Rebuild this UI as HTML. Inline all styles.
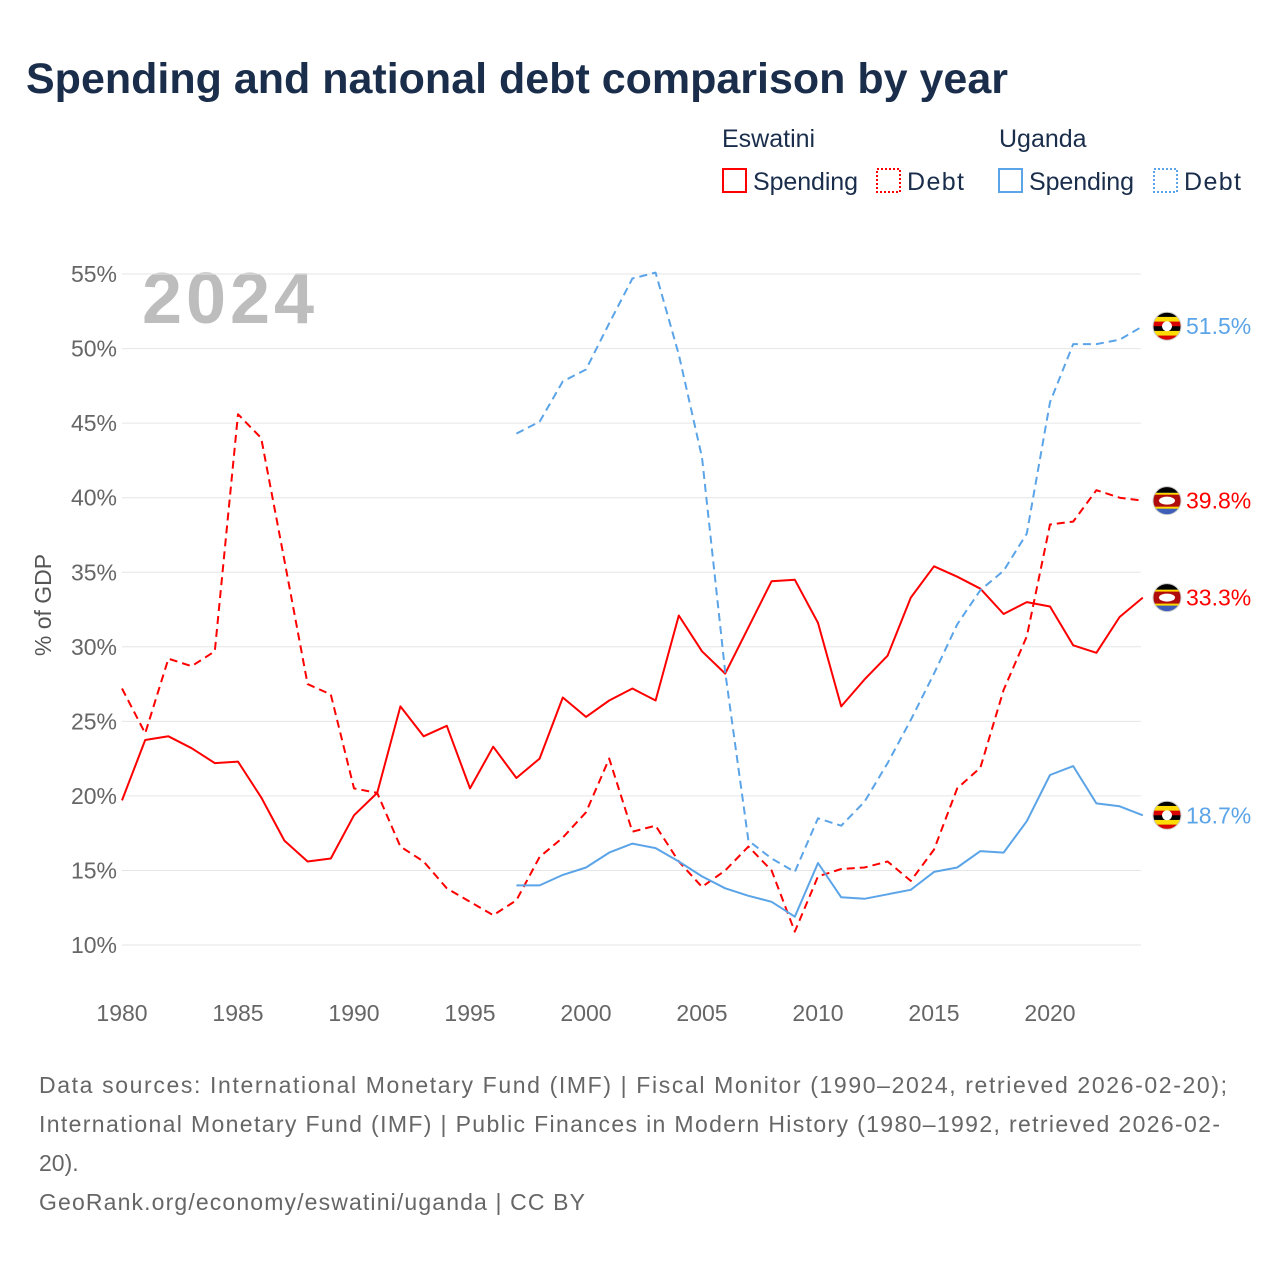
<!DOCTYPE html>
<html><head><meta charset="utf-8"><style>
body{margin:0;background:#fff;font-family:"Liberation Sans",sans-serif;}
#wrap{position:relative;width:1280px;height:1280px;overflow:hidden;}
</style></head><body>
<div id="wrap">
<svg id="chart" width="1280" height="1280" font-family="Liberation Sans, sans-serif">
<text x="26" y="93" font-size="43" font-weight="bold" fill="#1a2e4c">Spending and national debt comparison by year</text>
<g font-size="25" fill="#1a2e4c">
<text x="722" y="147">Eswatini</text>
<text x="999" y="147">Uganda</text>
<g><rect x="723" y="169" width="23" height="23" fill="none" stroke="#f00" stroke-width="2"/><text x="753" y="190" textLength="105">Spending</text></g>
<g><rect x="877" y="169" width="23" height="23" fill="none" stroke="#f00" stroke-width="2" stroke-dasharray="2,2"/><text x="907" y="190" textLength="57">Debt</text></g>
<g><rect x="999" y="169" width="23" height="23" fill="none" stroke="#5ba4e8" stroke-width="2"/><text x="1029" y="190" textLength="105">Spending</text></g>
<g><rect x="1154" y="169" width="23" height="23" fill="none" stroke="#5ba4e8" stroke-width="2" stroke-dasharray="2,2"/><text x="1184" y="190" textLength="57">Debt</text></g>
</g>
<text x="142" y="323" font-size="72" font-weight="bold" fill="#bdbdbd" textLength="172">2024</text>
<text transform="translate(51,605) rotate(-90)" text-anchor="middle" font-size="23" fill="#555">% of GDP</text>
<g id="grid"></g><g id="series"></g><g id="labels"></g>
<g font-size="23" fill="#666">
<text x="39" y="1093" textLength="1188">Data sources: International Monetary Fund (IMF) | Fiscal Monitor (1990–2024, retrieved 2026-02-20);</text>
<text x="39" y="1132" textLength="1181">International Monetary Fund (IMF) | Public Finances in Modern History (1980–1992, retrieved 2026-02-</text>
<text x="39" y="1171">20).</text>
<text x="39" y="1210" textLength="546">GeoRank.org/economy/eswatini/uganda | CC BY</text>
</g>
</svg>
</div>
<script>
const yTicks=[10,15,20,25,30,35,40,45,50,55];
const xTicks=[1980,1985,1990,1995,2000,2005,2010,2015,2020];
const eswYears0=1980, ugaYears0=1997;
const eswSpending=[19.7,23.75,24.0,23.2,22.2,22.3,19.9,17.0,15.6,15.8,18.7,20.2,26.0,24.0,24.7,20.5,23.3,21.2,22.5,26.6,25.3,26.4,27.2,26.4,32.1,29.7,28.2,31.3,34.4,34.5,31.6,26.0,27.8,29.4,33.3,35.4,34.7,33.9,32.2,33.0,32.7,30.1,29.6,32.0,33.3];
const eswDebt=[27.2,24.2,29.2,28.7,29.7,45.6,44.0,35.8,27.5,26.8,20.5,20.2,16.6,15.6,13.8,12.9,12.0,13.0,15.9,17.2,18.9,22.5,17.6,18.0,15.6,13.9,15.0,16.6,15.0,10.9,14.6,15.1,15.2,15.6,14.3,16.4,20.5,21.9,27.1,30.7,38.2,38.4,40.5,40.0,39.8];
const ugaSpending=[14.0,14.0,14.7,15.2,16.2,16.8,16.5,15.6,14.6,13.8,13.3,12.9,11.9,15.5,13.2,13.1,13.4,13.7,14.9,15.2,16.3,16.2,18.3,21.4,22.0,19.5,19.3,18.7];
const ugaDebt=[44.3,45.1,47.8,48.6,51.7,54.7,55.1,49.6,42.7,28.3,17.0,15.8,14.9,18.5,18.0,19.6,22.2,25.1,28.2,31.5,33.8,35.1,37.6,46.4,50.3,50.3,50.6,51.5];
const X=yr=>122+(yr-1980)*23.2;
const Y=v=>945-(v-10)*14.91;
const NS="http://www.w3.org/2000/svg";
function mk(tag,attrs,parent){const e=document.createElementNS(NS,tag);for(const k in attrs)e.setAttribute(k,attrs[k]);parent.appendChild(e);return e;}
const grid=document.getElementById('grid'),ser=document.getElementById('series'),lab=document.getElementById('labels');
yTicks.forEach(t=>{
 const l=mk('line',{x1:122,x2:1141,y1:Y(t),y2:Y(t),stroke:'#e6e6e6','stroke-width':1},grid);
 
 
 const tx=mk('text',{x:117,y:Y(t)+8,'text-anchor':'end','font-size':23,fill:'#666'},grid);tx.textContent=t+'%';
 
 
});
xTicks.forEach(t=>{
 const tx=mk('text',{x:X(t),y:1021,'text-anchor':'middle','font-size':23,fill:'#666'},grid);tx.textContent=t;
 
 
});
function line(arr,y0,color,dash,name){
 const d=arr.map((v,i)=>(i?'L':'M')+X(y0+i).toFixed(1)+','+Y(v).toFixed(1)).join(' ');
 const p=mk('path',{d:d,fill:'none',stroke:color,'stroke-width':2,'stroke-dasharray':dash||'none','stroke-linejoin':'round'},ser);
 
 
}
line(eswSpending,eswYears0,'#f00','', 'eswatini-spending-line');
line(eswDebt,eswYears0,'#f00','8,5','eswatini-debt-line');
line(ugaSpending,ugaYears0,'#5ba4e8','', 'uganda-spending-line');
line(ugaDebt,ugaYears0,'#5ba4e8','8,5','uganda-debt-line');
function flag(cx,cy,uga){
 const g=mk('g',{},lab);
 const cid='c'+Math.round(cy);
 const cp=mk('clipPath',{id:cid},g);mk('circle',{cx:cx,cy:cy,r:14},cp);
 const gg=mk('g',{'clip-path':'url(#'+cid+')'},g);
 if(uga){const c=['#000','#fcdc04','#d90000','#000','#fcdc04','#d90000'];c.forEach((col,i)=>mk('rect',{x:cx-14,y:cy-14+i*28/6,width:28,height:28/6+0.5,fill:col},gg));mk('circle',{cx:cx,cy:cy,r:5,fill:'#fff'},gg);}
 else{mk('rect',{x:cx-14,y:cy-14,width:28,height:28,fill:'#3e5eb9'},gg);mk('rect',{x:cx-14,y:cy-8,width:28,height:16,fill:'#ffd900'},gg);mk('rect',{x:cx-14,y:cy-6,width:28,height:12,fill:'#b10c0c'},gg);mk('ellipse',{cx:cx,cy:cy,rx:8,ry:4,fill:'#fff'},gg);mk('rect',{x:cx-14,y:cy-14,width:28,height:6,fill:'#000'},gg);}
 mk('circle',{cx:cx,cy:cy,r:14,fill:'none',stroke:'#ccc','stroke-width':1},g);
 
 
}
function endLabel(v,color,uga,name){
 const y=Y(v);flag(1167,y,uga);
 const t=mk('text',{x:1186,y:y+8,'font-size':23,fill:color},lab);t.textContent=v.toFixed(1)+'%';
 
 
}
endLabel(ugaDebt[ugaDebt.length-1],'#5ba4e8',true,'uganda-debt-end-label');
endLabel(eswDebt[eswDebt.length-1],'#f00',false,'eswatini-debt-end-label');
endLabel(eswSpending[eswSpending.length-1],'#f00',false,'eswatini-spending-end-label');
endLabel(ugaSpending[ugaSpending.length-1],'#5ba4e8',true,'uganda-spending-end-label');
</script>
</body></html>
